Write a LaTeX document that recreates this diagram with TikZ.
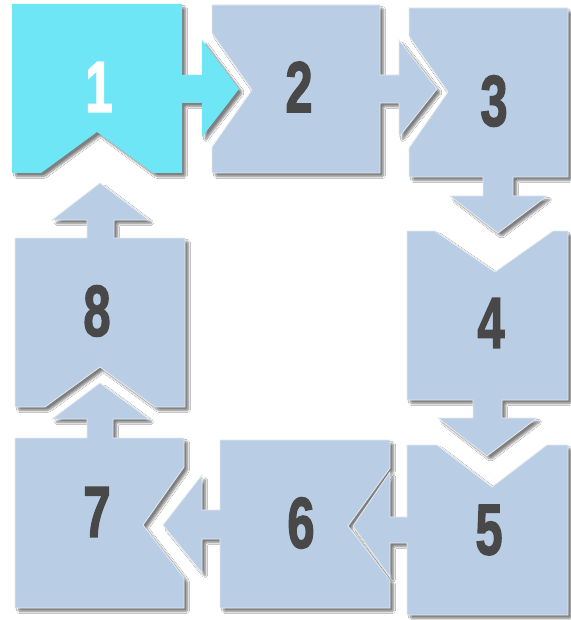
\documentclass[tikz,border=0pt]{standalone}
\usepackage{fontspec}
\setmainfont{Liberation Sans}
\newfontfamily\digitfont[FakeBold=2.2]{Liberation Sans Bold}
\usetikzlibrary{shadows.blur}
\definecolor{boxblue}{RGB}{185,205,228}
\definecolor{boxcyan}{RGB}{110,230,245}
\definecolor{digitgray}{RGB}{72,72,72}
\definecolor{edgeline}{RGB}{228,234,242}
\tikzset{
  piece/.style={fill=boxblue, draw=edgeline, line width=0.8pt, line join=miter,
    blur shadow={shadow xshift=3.5pt, shadow yshift=-3.5pt, shadow opacity=50, shadow blur steps=6, shadow blur extra rounding=1.5pt}},
  firstpiece/.style={piece, fill=boxcyan, draw=none},
  digit/.style={font=\fontsize{72}{72}\digitfont, text=digitgray, inner sep=0pt},
}
\newcommand{\narrow}[1]{\scalebox{0.68}[1]{#1}}
\begin{document}
\begin{tikzpicture}[x=1pt,y=-1pt]
\fill[white] (0,0) rectangle (570,620);
\useasboundingbox (0,0) rectangle (570,620);
% piece 1
\path[firstpiece] (12,4) -- (182,4) -- (182,75) -- (202,75) -- (202,40) -- (239,89) -- (202,137) -- (202,103) -- (182,103) -- (182,173) -- (153,173) -- (97,132) -- (41,173) -- (12,173) -- cycle;
% piece 2
\path[piece] (212,5) -- (380,5) -- (380,75) -- (399,75) -- (399,40) -- (437,89) -- (399,137) -- (399,103) -- (380,103) -- (380,173) -- (212,173) -- (212,147) -- (252,90) -- (212,33) -- cycle;
% piece 3
\path[piece] (409,8) -- (568,8) -- (568,177) -- (513,177) -- (513,196) -- (547,196) -- (498,233) -- (450,196) -- (483,196) -- (483,177) -- (409,177) -- (409,148) -- (448,92) -- (409,36) -- cycle;
% piece 4
\path[piece] (407,231) -- (435,231) -- (495,272) -- (553,231) -- (568,231) -- (568,400) -- (502,400) -- (502,418) -- (537,418) -- (487,456) -- (438,418) -- (473,418) -- (473,400) -- (407,400) -- cycle;
% piece 6
\path[piece] (220,440) -- (390,440) -- (390,468) -- (348,526) -- (390,580) -- (390,608) -- (220,608) -- (220,539) -- (202,539) -- (202,573) -- (163,525) -- (202,475) -- (202,510) -- (220,510) -- cycle;
% piece 5
\path[piece] (407,445) -- (437,445) -- (492,487) -- (547,445) -- (568,445) -- (568,615) -- (407,615) -- (407,543) -- (390,543) -- (390,577) -- (353,526) -- (390,472) -- (390,517) -- (407,517) -- cycle;
% piece 8
\path[piece] (15,238) -- (87,238) -- (87,220) -- (52,220) -- (100,183) -- (149,220) -- (114,220) -- (114,238) -- (185,238) -- (185,407) -- (155,407) -- (100,367) -- (45,407) -- (15,407) -- cycle;
% piece 7
\path[piece] (15,438) -- (87,438) -- (87,419) -- (52,419) -- (100,383) -- (149,419) -- (113,419) -- (113,438) -- (184,438) -- (184,467) -- (143,525) -- (184,578) -- (184,608) -- (15,608) -- cycle;
% digits
\node[digit, text=white] (n1) at (99,87) {\narrow{1}};
\node[digit] (n2) at (299,87) {\narrow{2}};
\node[digit] (n3) at (494,101) {\narrow{3}};
\node[digit] (n4) at (491,323) {\narrow{4}};
\node[digit] (n5) at (489,530) {\narrow{5}};
\node[digit] (n6) at (301,523) {\narrow{6}};
\node[digit] (n7) at (97,512) {\narrow{7}};
\node[digit] (n8) at (97,311) {\narrow{8}};
\end{tikzpicture}
\end{document}
